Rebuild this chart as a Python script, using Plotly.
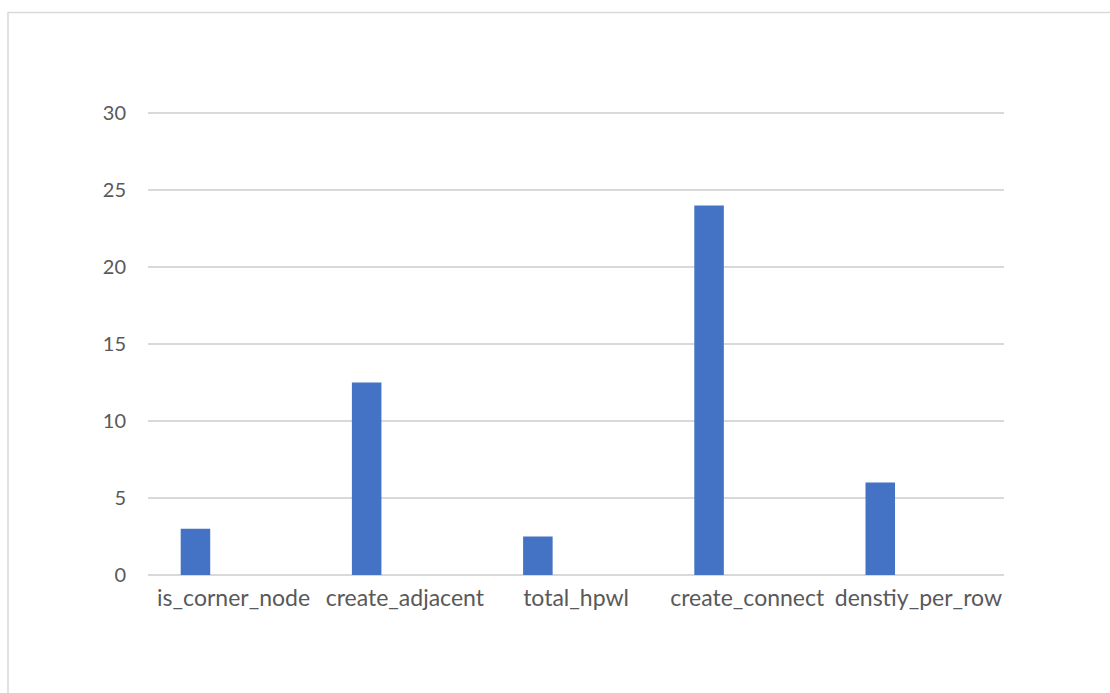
import plotly.graph_objects as go

# Function names and their measured values
functions = ["is_corner_node", "create_adjacent", "total_hpwl", "create_connect", "denstiy_per_row"]
values = [3, 12.5, 2.5, 24, 6]
y_ticks = [0, 5, 10, 15, 20, 25, 30]

W, H = 1110, 693
L, R, T, B = 148, 106, 110, 118
plot_w = W - L - R
plot_h = H - T - B
y_top = 30.2  # a little headroom so the top gridline is drawn

fig = go.Figure(
    go.Bar(
        x=functions,
        y=values,
        marker=dict(color="#4472C4", line=dict(width=0)),
        width=0.1725,
        offset=-0.309,
        hoverinfo="x+y",
    )
)

x_font = dict(family="Lato, Calibri, sans-serif", size=23, color="#595959")
y_font = dict(family="Lato, Calibri, sans-serif", size=20, color="#595959")

fig.update_layout(
    width=W,
    height=H,
    margin=dict(l=L, r=R, t=T, b=B, pad=0),
    paper_bgcolor="white",
    plot_bgcolor="white",
    showlegend=False,
    font=x_font,
    xaxis=dict(
        type="category",
        showgrid=False,
        showline=False,
        zeroline=False,
        ticks="",
        tickfont=x_font,
        ticklabelstandoff=7,
        fixedrange=True,
    ),
    yaxis=dict(
        range=[0, y_top],
        tickvals=y_ticks,
        showgrid=True,
        gridcolor="#d9d9d9",
        gridwidth=1.5,
        zeroline=True,
        zerolinecolor="#d9d9d9",
        zerolinewidth=1.5,
        showline=False,
        ticks="",
        tickfont=y_font,
        ticklabelstandoff=21,
        fixedrange=True,
    ),
    shapes=[
        dict(
            type="rect",
            xref="paper",
            yref="paper",
            x0=(8 - L) / plot_w,
            x1=(W + 10 - L) / plot_w,
            y0=-(H + 10 - (H - B)) / plot_h,
            y1=1 + (T - 12.5) / plot_h,
            line=dict(color="#d9d9d9", width=1.5),
            fillcolor="rgba(0,0,0,0)",
            layer="below",
        )
    ],
)

fig.write_html("out.html")
